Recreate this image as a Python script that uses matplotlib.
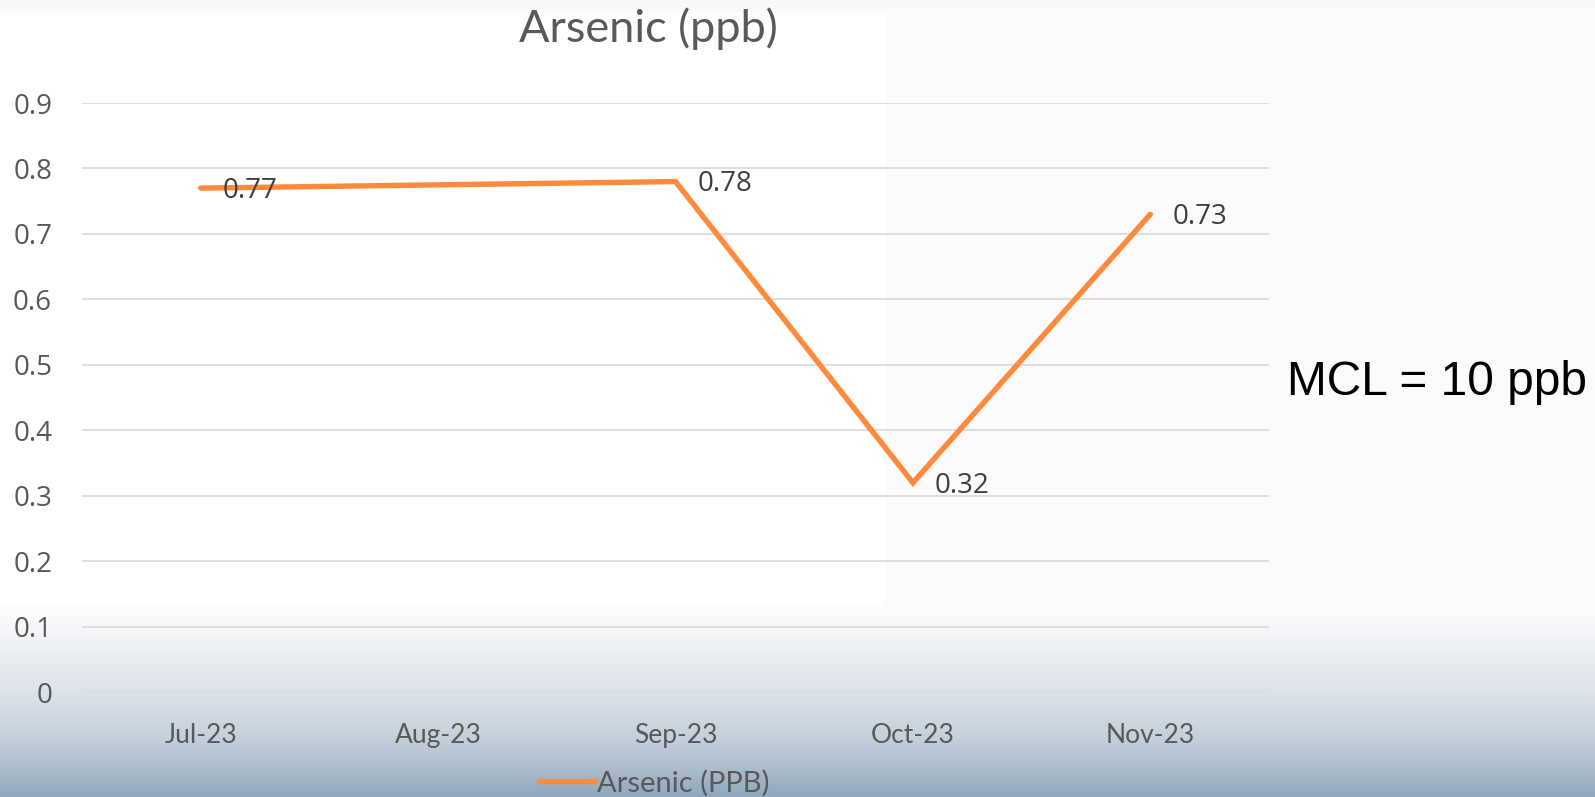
import numpy as np
import matplotlib
matplotlib.use("Agg")
import matplotlib.pyplot as plt
from matplotlib.lines import Line2D
from matplotlib.colors import to_rgb

# ---- data ----
categories = ["Jul-23", "Aug-23", "Sep-23", "Oct-23", "Nov-23"]
values = [0.77, None, 0.78, 0.32, 0.73]   # Aug-23 has no sample
label_texts = ["0.77", "", "0.78", "0.32", "0.73"]
yticks = [0, 0.1, 0.2, 0.3, 0.4, 0.5, 0.6, 0.7, 0.8, 0.9]
series_name = "Arsenic (PPB)"
title = "Arsenic (ppb)"
note = "MCL = 10 ppb"

W, H = 1595, 797
fig = plt.figure(figsize=(W / 100, H / 100), dpi=100)

# ---- background (white top, blue-gray gradient bottom) ----
bg = fig.add_axes([0, 0, 1, 1], zorder=-10)
rows = np.arange(H)
stops_y = [0, 10, 14, 600, 640, 700, 740, 770, 797]
stops_c = ["#f6f8fb", "#fafbfc", "#ffffff", "#ffffff", "#f0f3f6", "#d8e0e8",
           "#c2cfda", "#aabbca", "#8ea7bb"]
cols = np.array([to_rgb(c) for c in stops_c])
grad = np.stack([np.interp(rows, stops_y, cols[:, k]) for k in range(3)], axis=1)
img = np.repeat(grad[:, None, :], W, axis=1)
# faint pink panel on the right
pink = np.array(to_rgb("#fcfafb"))
img[14:608, 886:, :] = pink
bg.imshow(img, aspect="auto", extent=[0, W, H, 0], interpolation="bilinear")
bg.set_xlim(0, W)
bg.set_ylim(H, 0)
bg.axis("off")

# ---- main axes ----
ax = fig.add_axes([82 / W, (H - 692.3) / H, (1269 - 82) / W, (692.3 - 103) / H])
ax.set_facecolor("none")
font = "Lato"
font2 = "Open Sans"
gray = "#595959"

x_all = np.arange(len(categories))
xs = [x for x, v in zip(x_all, values) if v is not None]
ys = [v for v in values if v is not None]
orange = "#ff8a3b"
ax.plot(xs, ys, color=orange, lw=3.9, solid_capstyle="round",
        solid_joinstyle="miter", zorder=3)

for x, v, t in zip(x_all, values, label_texts):
    if v is None:
        continue
    ax.annotate(t, (x, v), xytext=(16, -2), textcoords="offset points",
                ha="left", va="center", fontsize=20, color="#404040",
                family=font2, zorder=4)

ax.set_xlim(-0.5, len(categories) - 0.5)
ax.set_ylim(0, 0.9)
ax.set_yticks(yticks)
ax.set_yticklabels([("%g" % t) for t in yticks])
ax.set_xticks(x_all)
ax.set_xticklabels(categories)
ax.grid(axis="y", color="#d9d9d9", lw=1.2)
ax.set_axisbelow(True)
for s in ax.spines.values():
    s.set_visible(False)
ax.tick_params(axis="both", length=0, labelsize=19, labelcolor=gray)
ax.tick_params(axis="y", pad=21.5, labelsize=20)
ax.tick_params(axis="x", pad=22)
for lab in ax.get_xticklabels():
    lab.set_family(font)
for lab in ax.get_yticklabels():
    lab.set_family(font2)

# title
fig.text(648 / W, 1 - 29 / H, title, ha="center", va="center",
         fontsize=32.5, color=gray, family=font)

# note
fig.text(1287 / W, 1 - 383 / H, note, ha="left", va="center",
         fontsize=34.5, color="black", family="Liberation Sans")

# legend
handle = Line2D([0], [0], color=orange, lw=3.9)
leg = fig.legend([handle], [series_name], loc="center",
                 bbox_to_anchor=(654 / W, 1 - 783 / H), frameon=False,
                 prop={"family": font, "size": 21}, handlelength=1.95,
                 handletextpad=0.05, borderpad=0)
for t in leg.get_texts():
    t.set_color(gray)

fig.savefig("out.png", dpi=100)
